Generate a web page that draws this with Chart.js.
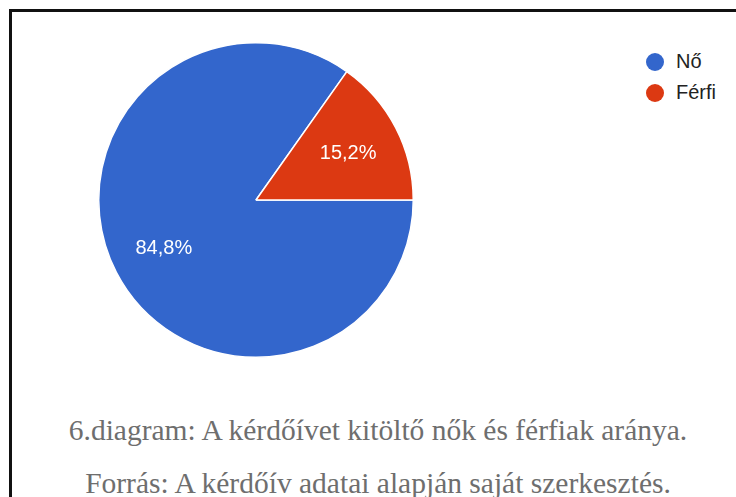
<!DOCTYPE html>
<html>
<head>
<meta charset="utf-8">
<script src="https://cdn.jsdelivr.net/npm/chart.js@4/dist/chart.umd.min.js"></script>
<style>
  body { margin: 0; width: 736px; height: 497px; background: #fff; overflow: hidden; }
  #frame {
    position: absolute; left: 9px; top: 9px; width: 740px; height: 500px;
    border-left: 3px solid #111; border-top: 3px solid #111;
  }
  #wrap { position: absolute; left: 89px; top: 33px; width: 334px; height: 334px; }
  #legend { position: absolute; left: 646px; top: 46px; font-family: Arial, "Liberation Sans", sans-serif; font-size: 20px; color: #222; }
  .item { display: flex; align-items: center; height: 31px; }
  .dot { width: 18px; height: 18px; border-radius: 50%; margin-right: 12px; }
  .caption {
    position: absolute; left: 10px; width: 736px; text-align: center;
    font-family: "Liberation Serif", "Times New Roman", serif; font-size: 29.5px; color: #6e6e6e;
  }
</style>
</head>
<body>
<div id="frame"></div>
<div id="wrap"><canvas id="pieChart"></canvas></div>
<div id="legend"></div>
<div class="caption" style="top:414px">6.diagram: A kérdőívet kitöltő nők és férfiak aránya.</div>
<div class="caption" style="top:467px">Forrás: A kérdőív adatai alapján saját szerkesztés.</div>
<script>
// Kérdőív kitöltők nemek szerint
const cimkek = ['Nő', 'Férfi']
const ertekek = [84.8, 15.2]
const szinek = ['#3366cc', '#dc3912']

// Szeletfeliratok (százalék, vesszővel)
const szeletFelirat = {
  id: 'szeletFelirat',
  afterDatasetsDraw(chart) {
    const ctx = chart.ctx
    const meta = chart.getDatasetMeta(0)
    ctx.save()
    ctx.fillStyle = '#fff'
    ctx.font = '20px Arial, "Liberation Sans", sans-serif'
    ctx.textAlign = 'center'
    ctx.textBaseline = 'middle'
    meta.data.forEach((arc, i) => {
      const p = arc.getProps(['x', 'y', 'startAngle', 'endAngle', 'outerRadius'], true)
      const mid = (p.startAngle + p.endAngle) / 2
      const r = p.outerRadius * 0.66
      const szoveg = ertekek[i].toFixed(1).replace('.', ',') + '%'
      ctx.fillText(szoveg, p.x + Math.cos(mid) * r, p.y + Math.sin(mid) * r + 1)
    })
    ctx.restore()
  },
}

new Chart(document.getElementById('pieChart'), {
  type: 'pie',
  data: {
    labels: cimkek,
    datasets: [{ data: ertekek, backgroundColor: szinek, borderColor: '#fff', borderWidth: 1.5 }],
  },
  options: {
    responsive: true,
    maintainAspectRatio: false,
    animation: false,
    rotation: 90,
    layout: { padding: 9 },
    plugins: { legend: { display: false }, tooltip: { enabled: false } },
  },
  plugins: [szeletFelirat],
})

// Jelmagyarázat
const legend = document.getElementById('legend')
cimkek.forEach((c, i) => {
  const sor = document.createElement('div')
  sor.className = 'item'
  sor.innerHTML = `<span class="dot" style="background:${szinek[i]}"></span>${c}`
  legend.appendChild(sor)
})
</script>
</body>
</html>
